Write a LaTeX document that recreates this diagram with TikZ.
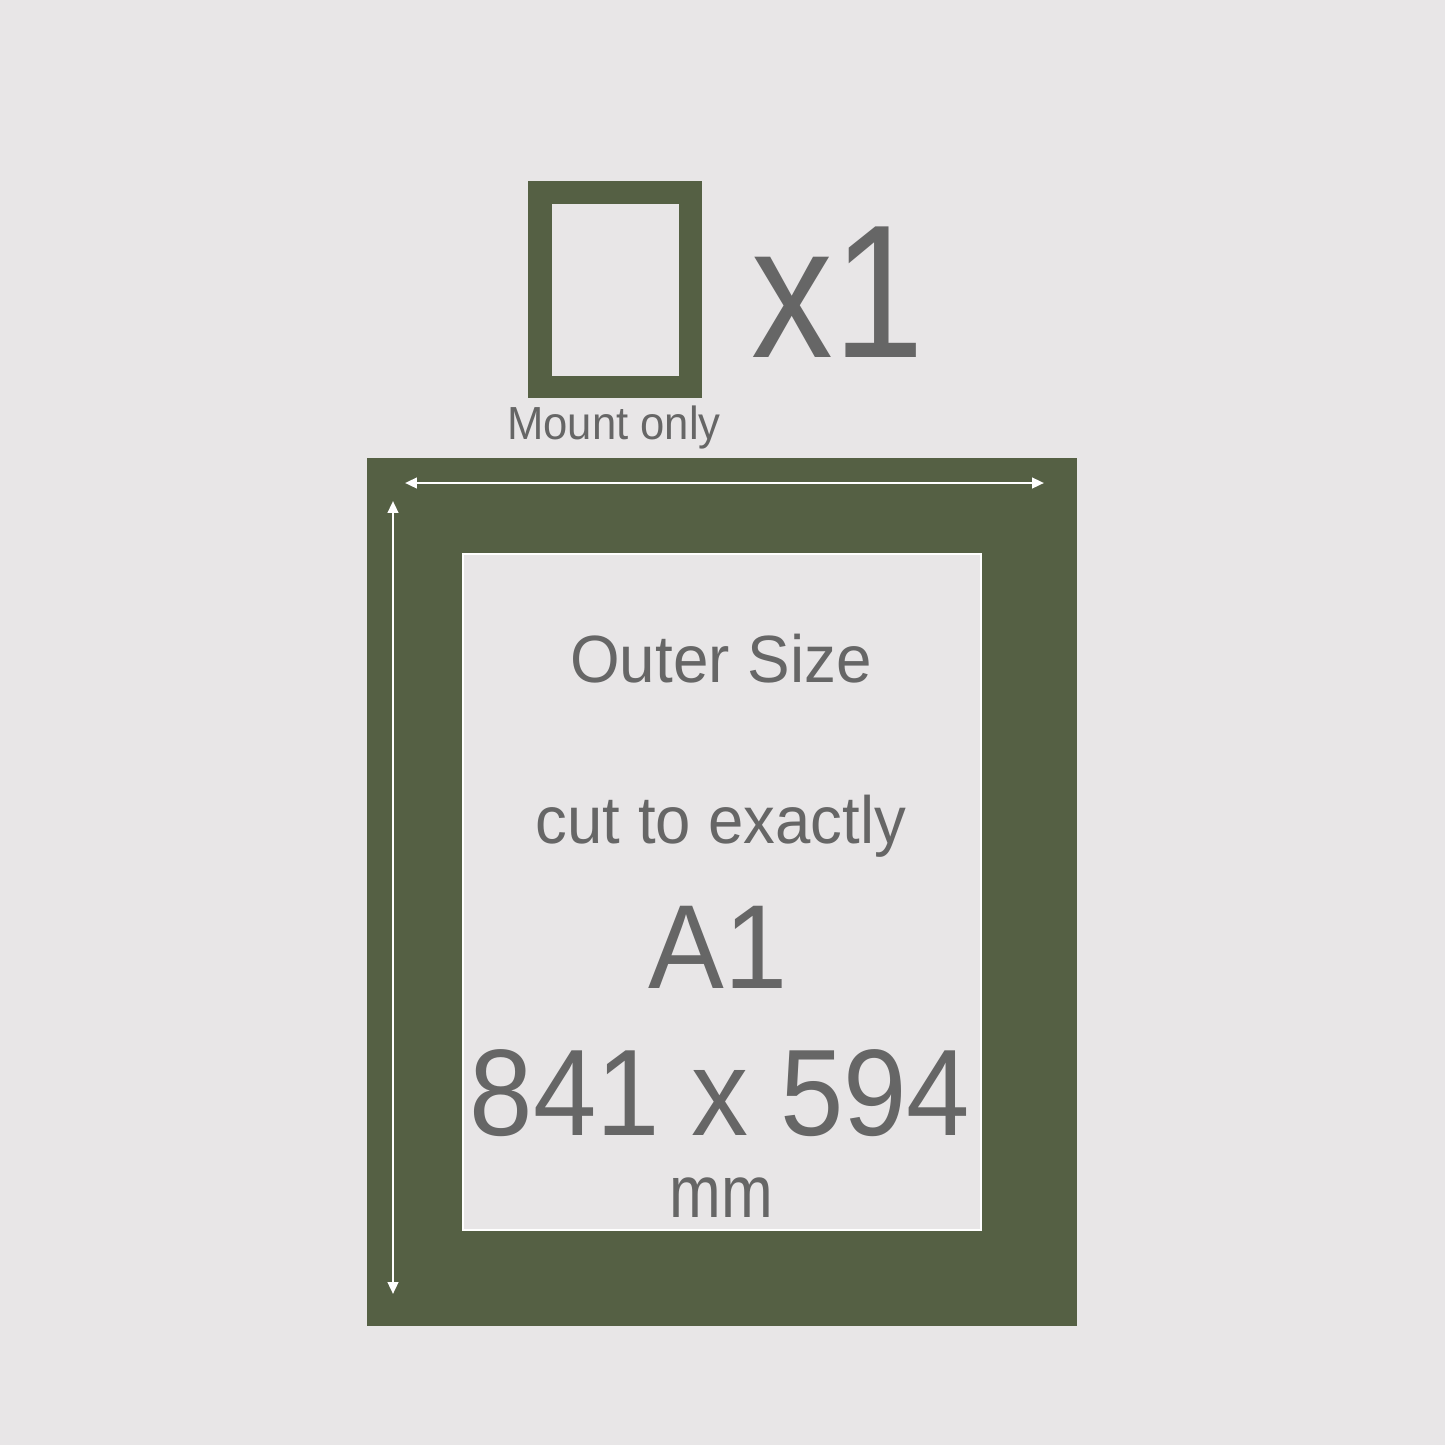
\documentclass[tikz,border=0pt]{standalone}
\usepackage{fontspec}
\setmainfont{Liberation Sans}
\usetikzlibrary{arrows.meta}
\definecolor{mountgreen}{RGB}{85,96,68}
\definecolor{paper}{RGB}{232,230,231}
\definecolor{inkgrey}{RGB}{102,102,102}
\newcommand{\squeeze}[2]{\scalebox{#1}[1]{#2}}
\begin{document}
\begin{tikzpicture}[x=0.01cm, y=-0.01cm,
  mount/.style={fill=mountgreen},
  window/.style={fill=paper, draw=white, line width=0.6pt},
  label/.style={text=inkgrey, inner sep=0pt, anchor=base},
  measure/.style={white, line width=0.7pt, {Triangle[length=3.4pt,width=3pt]}-{Triangle[length=3.4pt,width=3pt]}}]
  % page
  \fill[paper] (0,0) rectangle (1445,1445);
  % small mount icon
  \fill[mount] (528,181) rectangle (702,398);
  \fill[paper] (552,204) rectangle (679,376);
  \node[label] (mountonly) at (614,439) {\fontsize{13.2}{15}\selectfont\squeeze{0.94}{Mount only}};
  \node[label, anchor=base west] (count) at (751,357) {\fontsize{54}{60}\selectfont\squeeze{0.86}{x1}};
  % large mount
  \fill[mount] (367,458) rectangle (1077,1326);
  \draw[window] (463,554) rectangle (981,1230);
  % measuring arrows
  \coordinate (wleft) at (405,483);
  \coordinate (wright) at (1044,483);
  \coordinate (htop) at (393,501);
  \coordinate (hbottom) at (393,1294);
  \draw[measure] (wleft) -- (wright);
  \draw[measure] (htop) -- (hbottom);
  % window texts
  \node[label] (outer) at (721,682) {\fontsize{19}{22}\selectfont\squeeze{0.955}{Outer Size}};
  \node[label] (cut) at (721,843) {\fontsize{19}{22}\selectfont\squeeze{0.95}{cut to exactly}};
  \node[label] (size) at (718,988) {\fontsize{34}{40}\selectfont\squeeze{0.95}{A1}};
  \node[label] (dims) at (720,1135) {\fontsize{35}{40}\selectfont\squeeze{0.926}{841 x 594}};
  \node[label] (unit) at (721,1217) {\fontsize{21}{24}\selectfont\squeeze{0.84}{mm}};
\end{tikzpicture}
\end{document}
